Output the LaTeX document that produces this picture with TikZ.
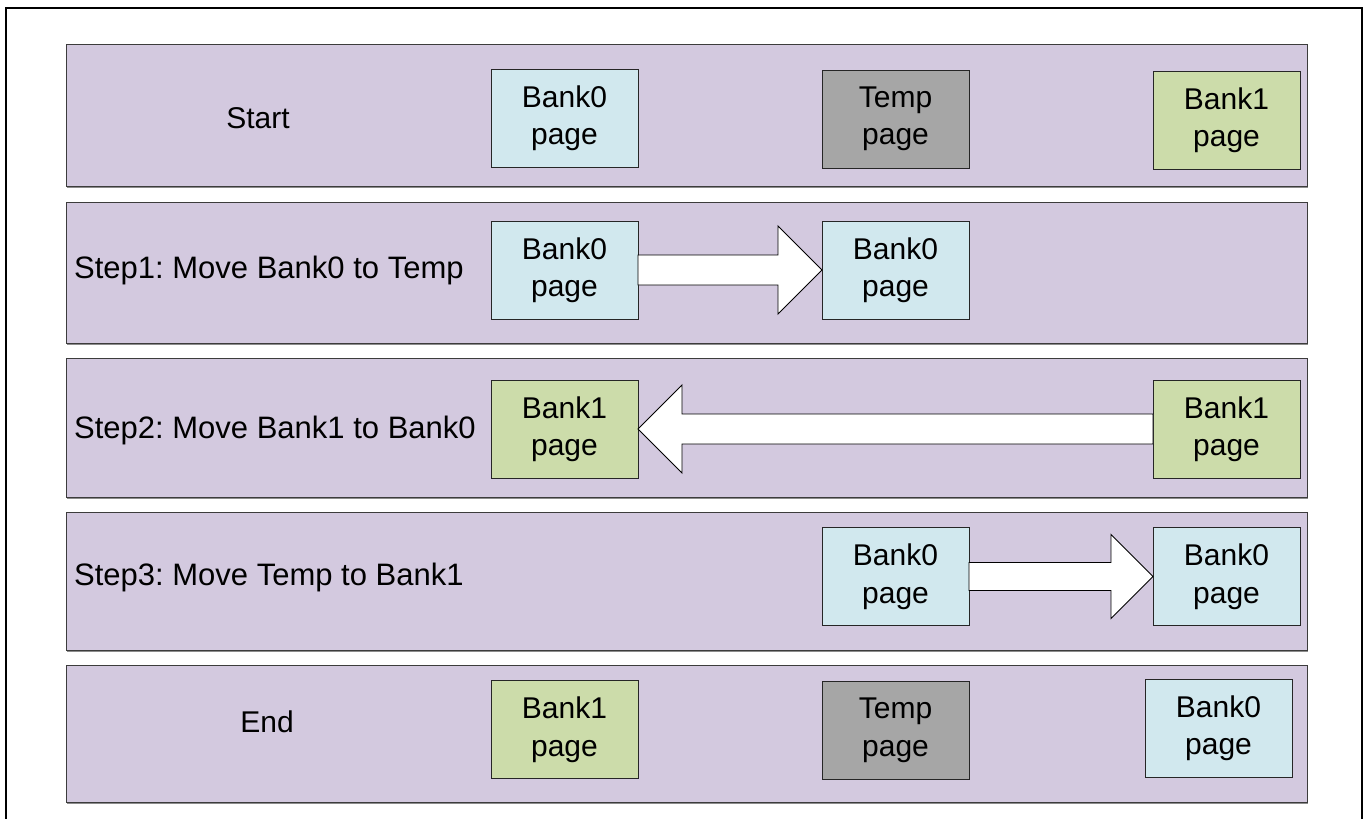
\documentclass[tikz,border=0pt]{standalone}
\usepackage{fontspec}
\setmainfont{Liberation Sans}
\usetikzlibrary{calc}
\frenchspacing
\definecolor{bandfill}{RGB}{211,201,223}
\definecolor{bankzero}{RGB}{209,232,238}
\definecolor{bankone}{RGB}{204,220,170}
\definecolor{tempgray}{RGB}{166,166,166}
\definecolor{edgegray}{RGB}{60,60,60}
\tikzset{
  band/.style={draw=edgegray, line width=1pt, fill=bandfill, anchor=north west,
    minimum width=1241pt, inner sep=0pt, outer sep=0pt},
  pagebox/.style={draw=black!85, line width=0.9pt, minimum width=147pt, minimum height=98pt,
    inner sep=0pt, outer sep=0pt, align=center, font=\fontsize{30}{37.5}\selectfont},
  bzero/.style={pagebox, fill=bankzero},
  bone/.style={pagebox, fill=bankone},
  tmp/.style={pagebox, fill=tempgray},
  steplabel/.style={font=\fontsize{31}{36}\selectfont, inner sep=0pt},
  bigarrow/.style={draw=black, line width=0.9pt, fill=white, line join=miter},
  shade/.style={fill=black!45}
}
\begin{document}
\begin{tikzpicture}[x=1pt, y=-1pt]
\useasboundingbox (0,0) rectangle (1365,819);
% open outer frame
\draw[line width=2pt] (6,819) -- (6,8) -- (1362,8) -- (1362,819);

% bands with a thin shadow below
\foreach \yt/\h in {44/142, 202/141, 358/139, 512/138, 665/137}{
  \fill[shade] (67,\yt+\h) rectangle (1308,\yt+\h+1.6);
}
\node[band, minimum height=142pt] (r1) at (66,44) {};
\node[band, minimum height=141pt] (r2) at (66,202) {};
\node[band, minimum height=139pt] (r3) at (66,358) {};
\node[band, minimum height=138pt] (r4) at (66,512) {};
\node[band, minimum height=137pt] (r5) at (66,665) {};

% row labels
\node[steplabel, font=\fontsize{30}{36}\selectfont] (l1) at (258,118) {Start};
\node[steplabel, anchor=west] (l2) at (74,270) {Step1: Move Bank0 to Temp};
\node[steplabel, anchor=west] (l3) at (74,430) {Step2: Move Bank1 to Bank0};
\node[steplabel, anchor=west] (l4) at (74,577) {Step3: Move Temp to Bank1};
\node[steplabel, font=\fontsize{30}{36}\selectfont] (l5) at (267,722) {End};

% start
\node[bzero] (s0) at (564.5,118) {Bank0\\page};
\node[tmp]   (st) at (895.5,119) {Temp\\page};
\node[bone]  (s1) at (1226.5,120) {Bank1\\page};

% step 1
\node[bzero] (a0) at (564.5,270) {Bank0\\page};
\node[bzero] (at) at (895.5,270) {Bank0\\page};
\draw[bigarrow] let \p1=(a0.east), \p2=(at.west) in
  (\x1,\y1+15) -- (\x2-44,\y1+15) -- (\x2-44,\y1+44) -- (\x2,\y1)
  -- (\x2-44,\y1-44) -- (\x2-44,\y1-15) -- (\x1,\y1-15) -- cycle;

% step 2
\node[bone] (b0) at (564.5,429) {Bank1\\page};
\node[bone] (b1) at (1226.5,429) {Bank1\\page};
\draw[bigarrow] let \p1=(b1.west), \p2=(b0.east) in
  (\x1,\y1+15) -- (\x2+44,\y1+15) -- (\x2+44,\y1+44) -- (\x2,\y1)
  -- (\x2+44,\y1-44) -- (\x2+44,\y1-15) -- (\x1,\y1-15) -- cycle;

% step 3
\node[bzero] (ct) at (895.5,576.5) {Bank0\\page};
\node[bzero] (c1) at (1226.5,576.5) {Bank0\\page};
\draw[bigarrow] let \p1=(ct.east), \p2=(c1.west) in
  (\x1,\y1+14) -- (\x2-42,\y1+14) -- (\x2-42,\y1+42) -- (\x2,\y1)
  -- (\x2-42,\y1-42) -- (\x2-42,\y1-14) -- (\x1,\y1-14) -- cycle;

% end
\node[bone]  (e0) at (564.5,729.5) {Bank1\\page};
\node[tmp]   (et) at (895.5,730.5) {Temp\\page};
\node[bzero] (e1) at (1218.5,728) {Bank0\\page};
\end{tikzpicture}
\end{document}
